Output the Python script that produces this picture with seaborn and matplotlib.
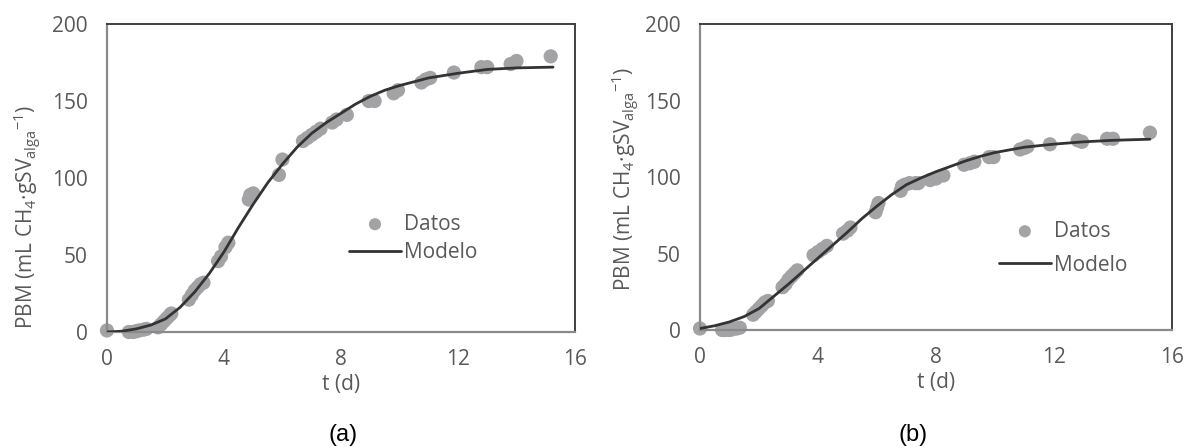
import matplotlib
matplotlib.use("Agg")
import matplotlib.pyplot as plt
import seaborn as sns
import pandas as pd

# ---------------- data ----------------
t_a = [0.0, 0.75, 0.9, 1.0, 1.1, 1.25, 1.35, 1.75, 1.85, 1.95, 2.05, 2.15, 2.2,
       2.8, 2.9, 3.0, 3.1, 3.2, 3.3, 3.8, 3.9, 4.05, 4.15, 4.85, 4.9, 5.0,
       5.88, 6.0, 6.7, 6.85, 7.0, 7.15, 7.3, 7.7, 7.85, 8.2, 8.95, 9.15,
       9.8, 9.95, 10.75, 10.9, 11.05, 11.86, 12.8, 13.0, 13.8, 14.0, 15.17]
pbm_a = [1, 0, 0, 0.5, 1, 1.5, 2, 3, 5, 7, 9, 11, 12,
         21, 24, 27, 29, 31, 32, 46, 49, 55, 58, 86, 89, 90,
         102, 112, 124, 126, 128, 130, 132, 136, 138, 141, 150, 150,
         155, 157, 162, 164, 165, 168.5, 172, 172, 174, 176, 179]

t_b = [0.0, 0.75, 0.85, 1.0, 1.1, 1.25, 1.35, 1.8, 1.9, 2.0, 2.1, 2.2, 2.3,
       2.8, 2.9, 3.0, 3.1, 3.2, 3.3, 3.85, 4.0, 4.15, 4.3, 4.85, 5.0, 5.1,
       5.95, 6.0, 6.05, 6.8, 6.85, 6.95, 7.1, 7.3, 7.4, 7.8, 8.0, 8.25,
       8.95, 9.15, 9.3, 9.8, 9.95, 10.85, 11.0, 11.1, 11.86, 12.8, 12.95,
       13.8, 14.0, 15.25]
pbm_b = [1, 0, 0, 0, 0.5, 1, 1.5, 10, 12, 14, 16, 18, 19,
         28, 30, 33, 35, 37, 39, 49, 51, 53, 55, 63, 65, 67,
         77, 80, 83, 91, 94, 95, 96, 96, 96, 98, 99, 101,
         108, 109, 110, 113, 113, 118, 119, 120, 121.4, 124, 123,
         125, 125, 129]

t_model = [0, 0.5, 1, 1.5, 2, 2.5, 3, 3.5, 4, 4.5, 5, 5.5, 6, 6.5, 7, 7.5,
           8, 8.5, 9, 9.5, 10, 11, 12, 13, 14, 15.25]
model_a = [0, 0.5, 2, 4.5, 8.5, 16, 26, 38, 52, 68, 83, 97, 109, 120, 129, 136,
           142, 148, 153, 157, 160, 165, 168, 170.5, 171.5, 172]
model_b = [1, 2.8, 5.3, 8.8, 14, 22, 30, 38.5, 47, 55.5, 64, 73, 81, 88.5, 95, 99.5,
           103.5, 107, 110.5, 113.5, 116, 119.5, 121.5, 123, 124, 124.7]

x_ticks = [0, 4, 8, 12, 16]
y_ticks = [0, 50, 100, 150, 200]
panel_labels = ["(a)", "(b)"]
x_label = "t (d)"
y_label = r"PBM (mL CH$_4$·gSV$_{alga}$$^{-1}$)"
legend_labels = ["Datos", "Modelo"]

# ---------------- style ----------------
sns.set_style("white")
plt.rcParams["font.family"] = ["Open Sans", "DejaVu Sans"]
plt.rcParams["mathtext.default"] = "regular"

TEXT = "#595959"
DOT = "#a3a3a6"
LINE = "#333333"
FS = 15

fig = plt.figure(figsize=(11.87, 4.47), dpi=100)
ax_a = fig.add_axes([0.0901, 0.2573, 0.3943, 0.6890])
ax_b = fig.add_axes([0.5897, 0.2617, 0.3977, 0.6846])

panels = [
    (ax_a, t_a, pbm_a, model_a, (-0.170, 0.375), (0.517, 0.384), 0.36),
    (ax_b, t_b, pbm_b, model_b, (-0.158, 0.495), (0.633, 0.357), 0.62),
]

for ax, tt, yy, mm, ylab_pos, leg_pos, lspace in panels:
    df_pts = pd.DataFrame({"t": tt, "PBM": yy})
    df_mod = pd.DataFrame({"t": t_model, "PBM": mm})
    sns.scatterplot(data=df_pts, x="t", y="PBM", ax=ax, color=DOT, s=105,
                    edgecolor="none", label=legend_labels[0], zorder=2,
                    clip_on=False)
    sns.lineplot(data=df_mod, x="t", y="PBM", ax=ax, color=LINE, linewidth=2.0,
                 label=legend_labels[1], zorder=3)
    ax.set_xlim(0, 16)
    ax.set_ylim(0, 200)
    ax.set_xticks(x_ticks)
    ax.set_yticks(y_ticks)
    ax.tick_params(axis="both", labelsize=FS, colors=TEXT, length=0)
    ax.tick_params(axis="x", pad=12)
    ax.tick_params(axis="y", pad=14)
    ax.set_xlabel(x_label, fontsize=FS, color=TEXT, labelpad=3)
    ax.set_ylabel(y_label, fontsize=FS, color=TEXT, va="center")
    ax.yaxis.set_label_coords(*ylab_pos)
    for side in ["top", "right"]:
        ax.spines[side].set_color("#3f3f3f")
        ax.spines[side].set_linewidth(1.4)
    for side in ["left", "bottom"]:
        ax.spines[side].set_color("#8a8a8a")
        ax.spines[side].set_linewidth(1.6)
    for s in ax.spines.values():
        s.set_visible(True)
    ax.grid(False)
    leg = ax.legend(loc="upper left", bbox_to_anchor=leg_pos, frameon=False,
                    fontsize=FS, handlelength=2.5, handletextpad=0.15,
                    labelspacing=lspace, borderpad=0, borderaxespad=0,
                    markerscale=0.85)
    for txt in leg.get_texts():
        txt.set_color(TEXT)

fig.text(343 / 1187, 1 - 435 / 447, panel_labels[0], ha="center", va="center",
         fontsize=17, family="Liberation Sans", color="#000000")
fig.text(913 / 1187, 1 - 435 / 447, panel_labels[1], ha="center", va="center",
         fontsize=17, family="Liberation Sans", color="#000000")

fig.savefig("out.png", dpi=100)
